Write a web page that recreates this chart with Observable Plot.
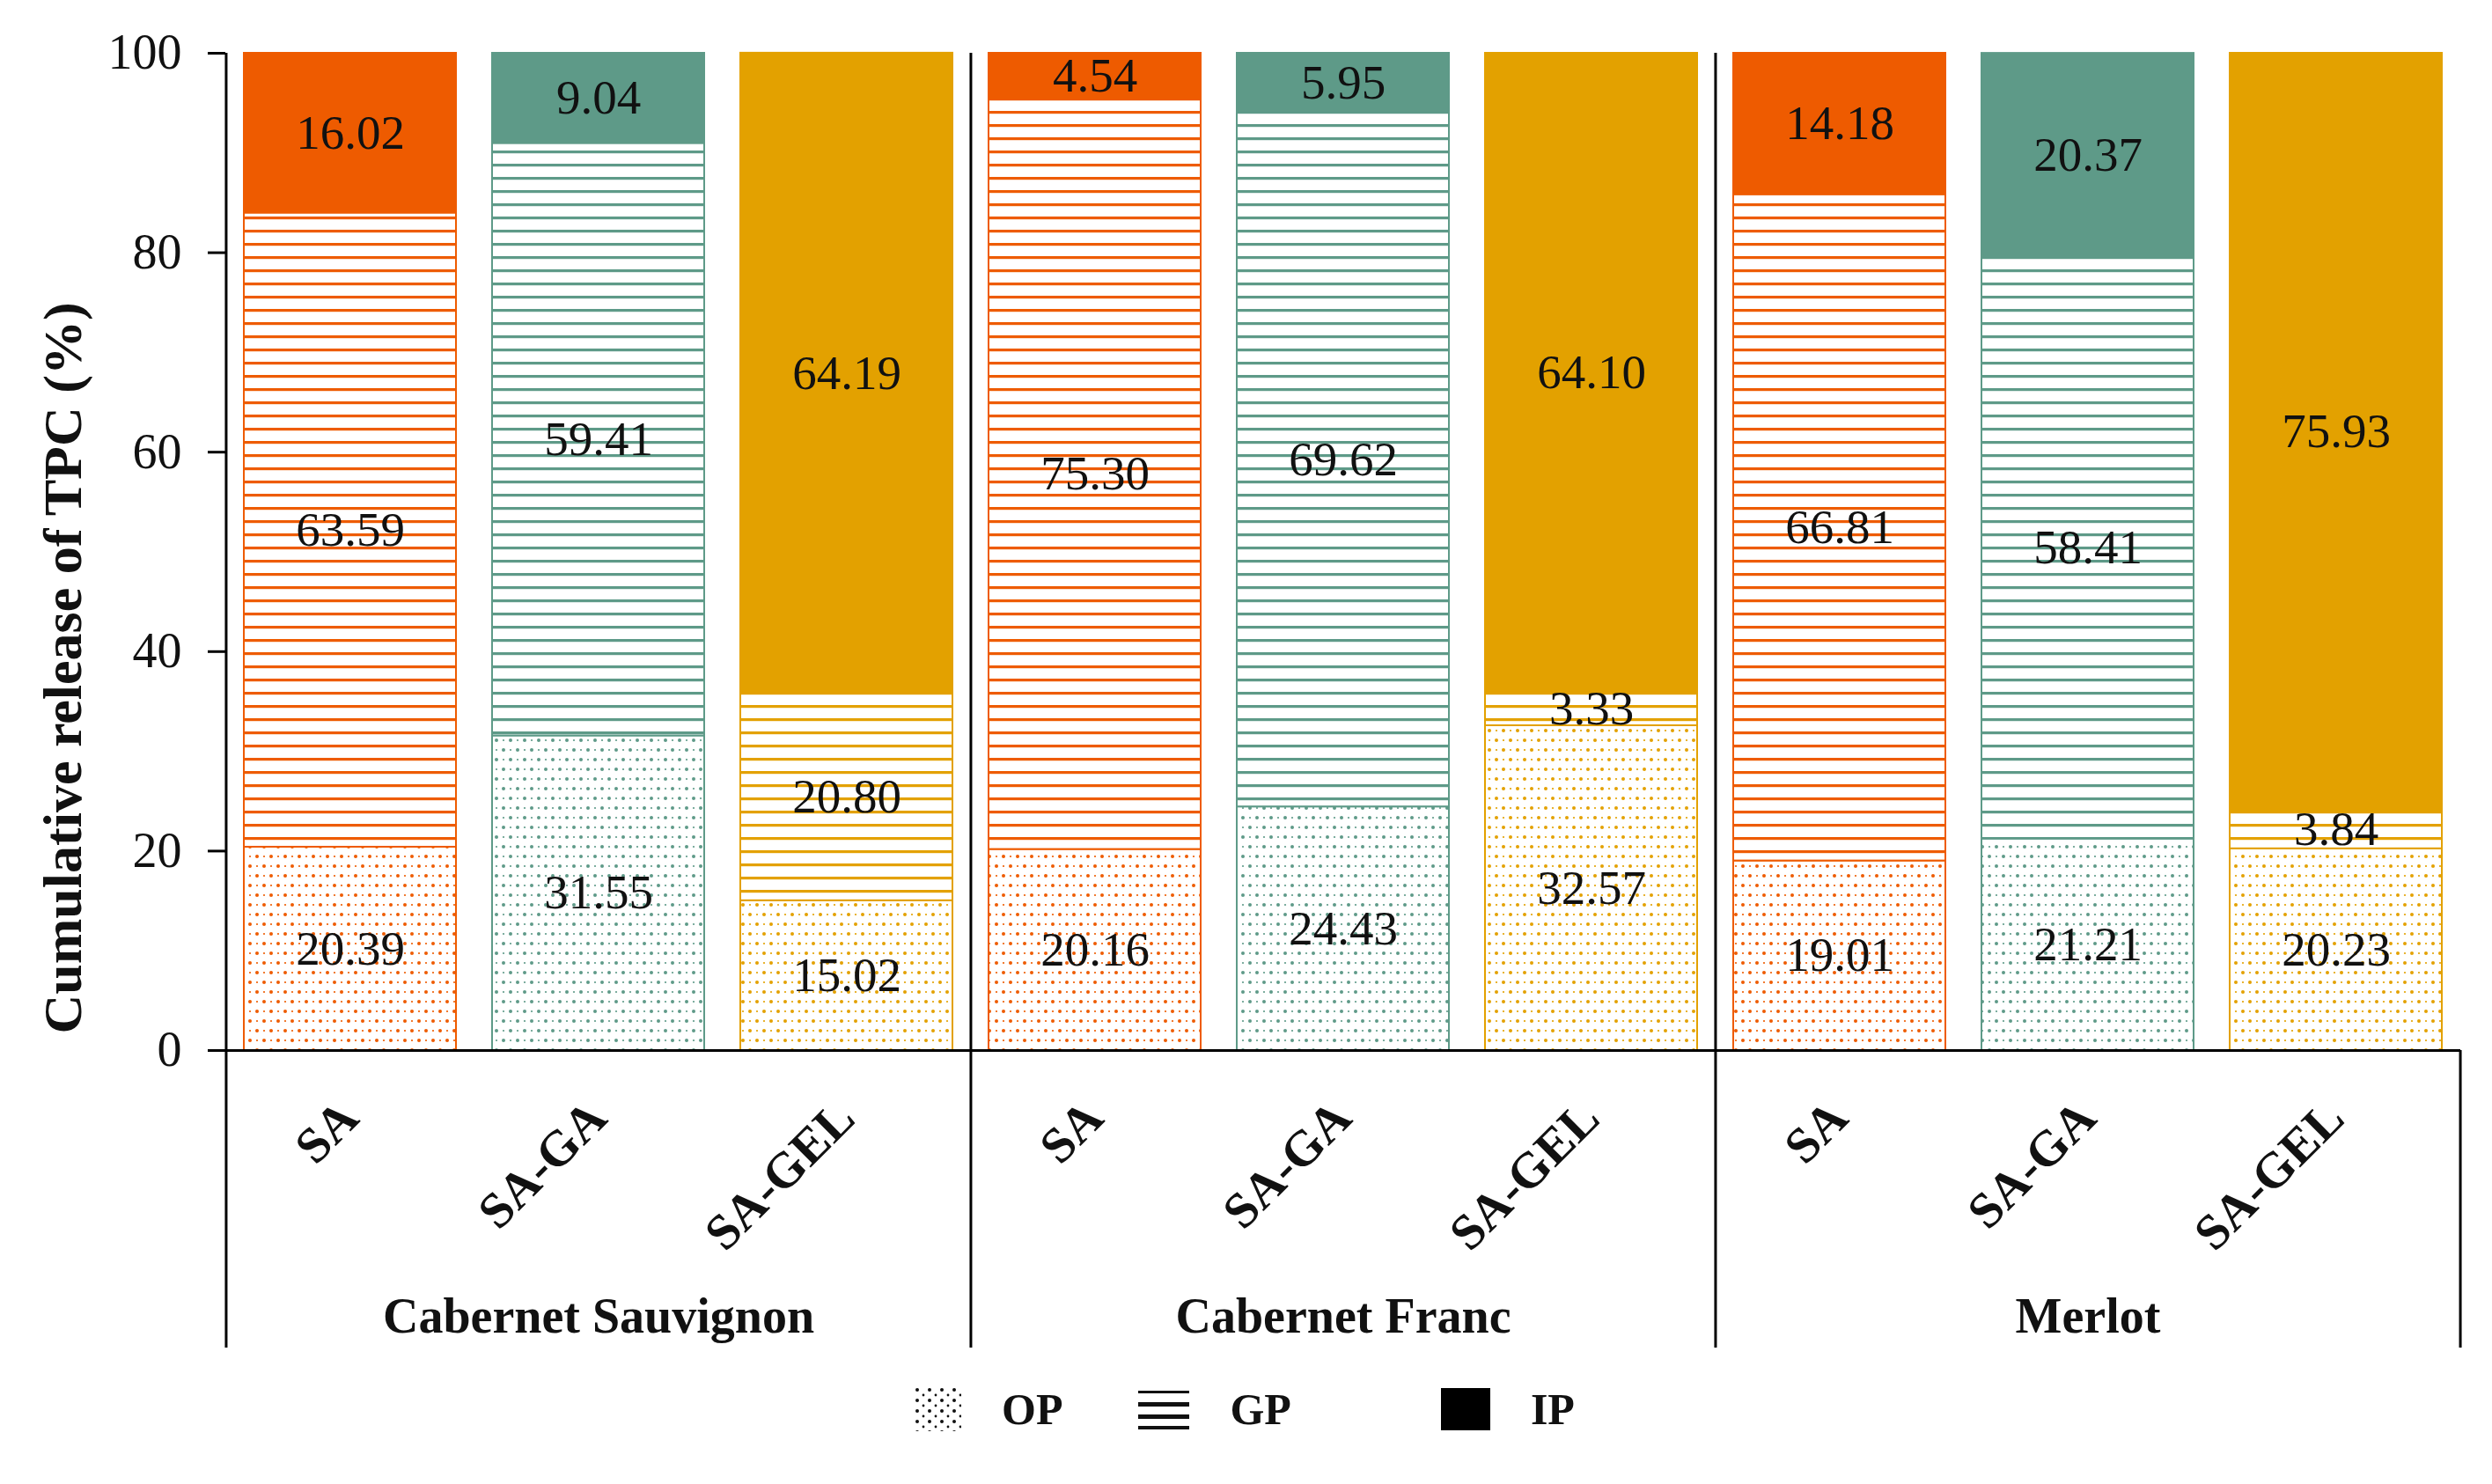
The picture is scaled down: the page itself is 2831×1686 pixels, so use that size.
<!DOCTYPE html>
<html>
<head>
<meta charset="utf-8">
<script src="https://cdn.jsdelivr.net/npm/d3@7"></script>
<script src="https://cdn.jsdelivr.net/npm/@observablehq/plot@0.6"></script>
<style>
  body { margin: 0; background: white; font-family: "Liberation Serif", serif; }
  #legend { display: flex; align-items: center; height: 102px; padding-left: 1038px; font-weight: bold; font-size: 50px; color: #111; }
  #legend .item { display: flex; align-items: center; }
  #legend svg { display: block; }
</style>
</head>
<body>
<div id="chart"></div>
<div id="legend"></div>
<script>
const grapes = ["Cabernet Sauvignon", "Cabernet Franc", "Merlot"];
const treatments = ["SA", "SA-GA", "SA-GEL"];
const fractions = ["OP", "GP", "IP"];
// one value per bar, in order grape x treatment
const opValues = [20.39, 31.55, 15.02, 20.16, 24.43, 32.57, 19.01, 21.21, 20.23];
const gpValues = [63.59, 59.41, 20.80, 75.30, 69.62, 3.33, 66.81, 58.41, 3.84];
const ipValues = [16.02, 9.04, 64.19, 4.54, 5.95, 64.10, 14.18, 20.37, 75.93];
const yTicks = [0, 20, 40, 60, 80, 100];
const treatmentColors = ["#EE5B00", "#5E9A88", "#E3A100"];

const valuesByFraction = {OP: opValues, GP: gpValues, IP: ipValues};

const rows = [];
const bars = [];
grapes.forEach((grape, gi) => {
  treatments.forEach((treatment, ti) => {
    const i = gi * 3 + ti;
    const key = grape + "|" + treatment;
    bars.push({key, grape, treatment, ti});
    fractions.forEach(fraction => {
      rows.push({key, grape, treatment, ti, fraction, value: valuesByFraction[fraction][i]});
    });
  });
});
const keys = bars.map(d => d.key);

const W = 2831, H = 1550;
const mL = 256, mR = 36, mT = 60, mB = H - 1193;
const padIn = 0.144, padOut = padIn / 2;
const step = (W - mL - mR) / (keys.length - padIn + 2 * padOut);
const frameH = H - mT - mB;
const boxDrop = 338;
const font = "Liberation Serif";

const fill = d => d.fraction === "IP" ? treatmentColors[d.ti] : `url(#${d.fraction}-${d.ti})`;
const fmt = d3.format(".2f");

const chart = Plot.plot({
  width: W,
  height: H,
  marginLeft: mL,
  marginRight: mR,
  marginTop: mT,
  marginBottom: mB,
  style: {fontFamily: font, fontSize: "54px", background: "white", color: "#111"},
  x: {domain: keys, paddingInner: padIn, paddingOuter: padOut, axis: null},
  y: {domain: [0, 100], axis: null},
  color: {type: "identity"},
  marks: [
    Plot.barY(rows, Plot.stackY({
      x: "key", y: "value", z: "fraction", order: fractions,
      fill, stroke: d => treatmentColors[d.ti], strokeWidth: 2
    })),
    Plot.text(rows, Plot.stackY({
      x: "key", y: "value", z: "fraction", order: fractions,
      text: d => fmt(d.value), fontSize: 55, fill: "#111"
    })),
    Plot.axisY(yTicks, {tickSize: 20, tickPadding: 30, fontSize: 56, strokeWidth: 3, label: null, stroke: "black"}),
    Plot.ruleY([0], {stroke: "black", strokeWidth: 3}),
    // group boxes
    Plot.ruleX(bars.filter(d => d.ti === 0), {x: "key", dx: -step / 2, insetBottom: -boxDrop, stroke: "black", strokeWidth: 3}),
    Plot.ruleX(bars.slice(-1), {x: "key", dx: step / 2, insetTop: frameH, insetBottom: -boxDrop, stroke: "black", strokeWidth: 3}),
    // treatment labels
    Plot.text(bars, {
      x: "key", text: "treatment", frameAnchor: "bottom", rotate: -45, textAnchor: "end",
      lineAnchor: "bottom", dx: 12, dy: 80, fontSize: 57, fontWeight: "bold", fill: "#111"
    }),
    // grape labels
    Plot.text(bars.filter(d => d.ti === 1), {
      x: "key", text: "grape", frameAnchor: "bottom", dy: 320, fontSize: 56, fontWeight: "bold", fill: "#111"
    }),
    // y label
    Plot.text(["Cumulative release of TPC (%)"], {
      text: d => d, frameAnchor: "left", textAnchor: "middle", rotate: -90, dx: -184, dy: 132,
      fontSize: 62, fontWeight: "bold", fill: "#111"
    })
  ]
});

// hatch patterns
const defs = d3.select(chart).insert("defs", ":first-child");
treatmentColors.forEach((c, ti) => {
  const gp = defs.append("pattern").attr("id", `GP-${ti}`)
    .attr("patternUnits", "userSpaceOnUse").attr("width", 10).attr("height", 15);
  gp.append("rect").attr("width", 10).attr("height", 15).attr("fill", "white");
  gp.append("rect").attr("y", 6).attr("width", 10).attr("height", 3.2).attr("fill", c);

  const op = defs.append("pattern").attr("id", `OP-${ti}`)
    .attr("patternUnits", "userSpaceOnUse").attr("width", 16).attr("height", 22);
  op.append("rect").attr("width", 16).attr("height", 22).attr("fill", "white");
  [[4, 5, 2], [12, 16, 2], [4, 16, 1.1], [12, 5, 1.1]].forEach(([cx, cy, r]) =>
    op.append("circle").attr("cx", cx).attr("cy", cy).attr("r", r).attr("fill", c));
});

d3.select("#chart").append(() => chart);

// legend
const legendItems = [
  {label: "OP", icon: `<svg width="54" height="50"><defs><pattern id="lop" patternUnits="userSpaceOnUse" width="14" height="12"><circle cx="4" cy="3" r="2" fill="#111"/><circle cx="11" cy="9" r="1.4" fill="#111"/></pattern></defs><rect width="54" height="50" fill="url(#lop)"/></svg>`, gapAfter: 86},
  {label: "GP", icon: `<svg width="58" height="46"><rect y="2" width="58" height="3" fill="#111"/><rect y="15" width="58" height="5" fill="#111"/><rect y="29" width="58" height="5" fill="#111"/><rect y="42" width="58" height="4" fill="#111"/></svg>`, gapAfter: 170},
  {label: "IP", icon: `<svg width="56" height="48"><rect width="56" height="48" fill="#000"/></svg>`, gapAfter: 0}
];
const legend = d3.select("#legend");
legendItems.forEach(d => {
  const item = legend.append("div").attr("class", "item").style("margin-right", d.gapAfter + "px");
  item.append("div").html(d.icon);
  item.append("span").style("margin-left", "46px").text(d.label);
});
</script>
</body>
</html>
